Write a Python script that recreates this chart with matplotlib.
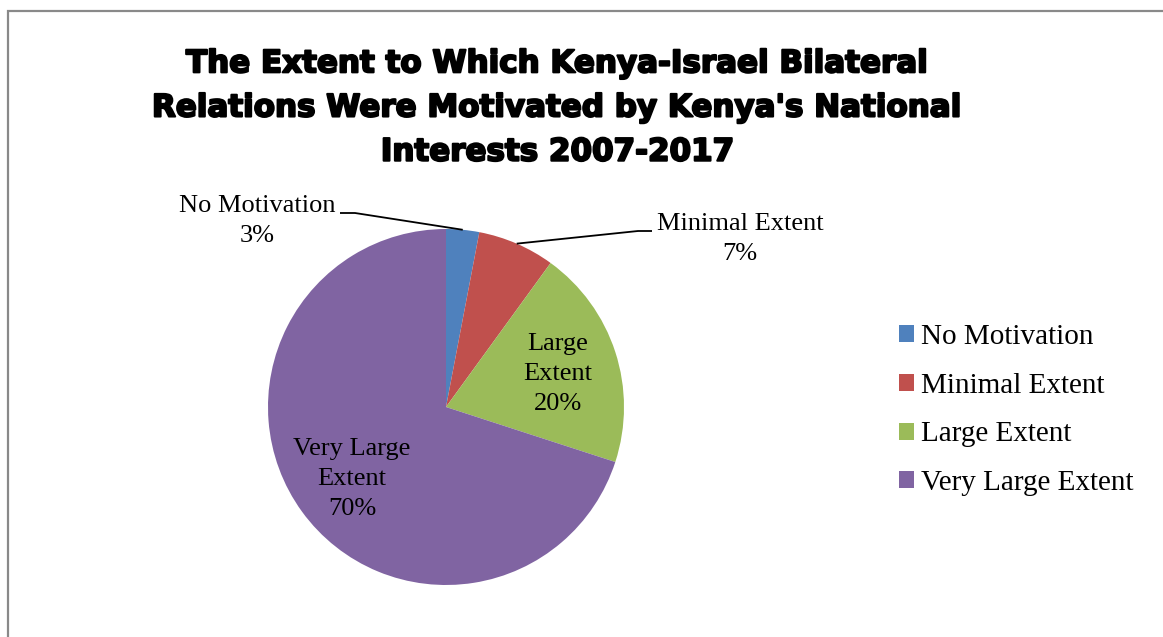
import matplotlib
matplotlib.use("Agg")
import matplotlib.pyplot as plt
import matplotlib.patheffects as pe
from matplotlib.patches import Rectangle, Patch
import numpy as np

categories = ["No Motivation", "Minimal Extent", "Large Extent", "Very Large Extent"]
values = [3, 7, 20, 70]
colors = ["#4F81BD", "#C0504D", "#9BBB59", "#8064A2"]
title = "The Extent to Which Kenya-Israel Bilateral\nRelations Were Motivated by Kenya's National\nInterests 2007-2017"

W, H = 1163, 637
fig = plt.figure(figsize=(W / 100, H / 100), dpi=100)
fig.patch.set_facecolor("white")

# outer chart frame (top and left edges visible)
frame = Rectangle((7.5 / W, -0.2), 2.0, 1.2 - 10.5 / H,
                  transform=fig.transFigure, fill=False,
                  edgecolor="#898989", linewidth=1.6)
fig.add_artist(frame)

# pie axes: centre (446, 407) px, radius 178 px
cx, cy, r = 446, 407, 178
ax = fig.add_axes([(cx - r) / W, (H - cy - r) / H, 2 * r / W, 2 * r / H])
wedges, _ = ax.pie(values, colors=colors, startangle=90, counterclock=False,
                   radius=1.0, wedgeprops=dict(linewidth=0))
ax.set_xlim(-1, 1)
ax.set_ylim(-1, 1)
ax.set_aspect("equal")
ax.axis("off")

serif = "Liberation Serif"
label_fs = 19
label_ls = 1.45


def mid_angle(w):
    return np.deg2rad((w.theta1 + w.theta2) / 2)


def px2d(px, py):
    return ((px - cx) / r, (cy - py) / r)


# outside labels with leader lines: (text centre, line end at text, elbow)
outside = {
    0: ((257, 221), (340, 213), (355, 213)),
    1: ((740, 239), (652, 231), (638, 231)),
}
for i, (tpos, lend, elbow) in outside.items():
    a = mid_angle(wedges[i])
    pts = [(np.cos(a), np.sin(a)), px2d(*elbow), px2d(*lend)]
    ax.plot([p[0] for p in pts], [p[1] for p in pts],
            color="black", lw=1.3, clip_on=False, solid_capstyle="butt")
    ax.text(*px2d(*tpos), f"{categories[i]}\n{values[i]}%", ha="center", va="center",
            fontsize=label_fs, family=serif, linespacing=label_ls)

# inside labels
ax.text(*px2d(558, 374), f"Large\nExtent\n{values[2]}%", ha="center", va="center",
        fontsize=label_fs, family=serif, linespacing=label_ls)
ax.text(*px2d(352, 479), f"Very Large\nExtent\n{values[3]}%", ha="center", va="center",
        fontsize=label_fs, family=serif, linespacing=label_ls)

fig.text(558 / W, 1 - 108 / H, title, ha="center", va="center",
         fontsize=22.3, family="DejaVu Sans", weight="bold", linespacing=1.66,
         path_effects=[pe.withStroke(linewidth=1.5, foreground="black")])

handles = [Patch(facecolor=c, edgecolor="none") for c in colors]
fig.legend(handles, categories, loc="center left",
           bbox_to_anchor=(899 / W, 1 - 410 / H), frameon=False,
           prop=dict(family=serif, size=21), handlelength=0.52, handleheight=0.52,
           handletextpad=0.22, labelspacing=0.78, borderaxespad=0, borderpad=0)

fig.savefig("out.png", dpi=100, facecolor="white")
